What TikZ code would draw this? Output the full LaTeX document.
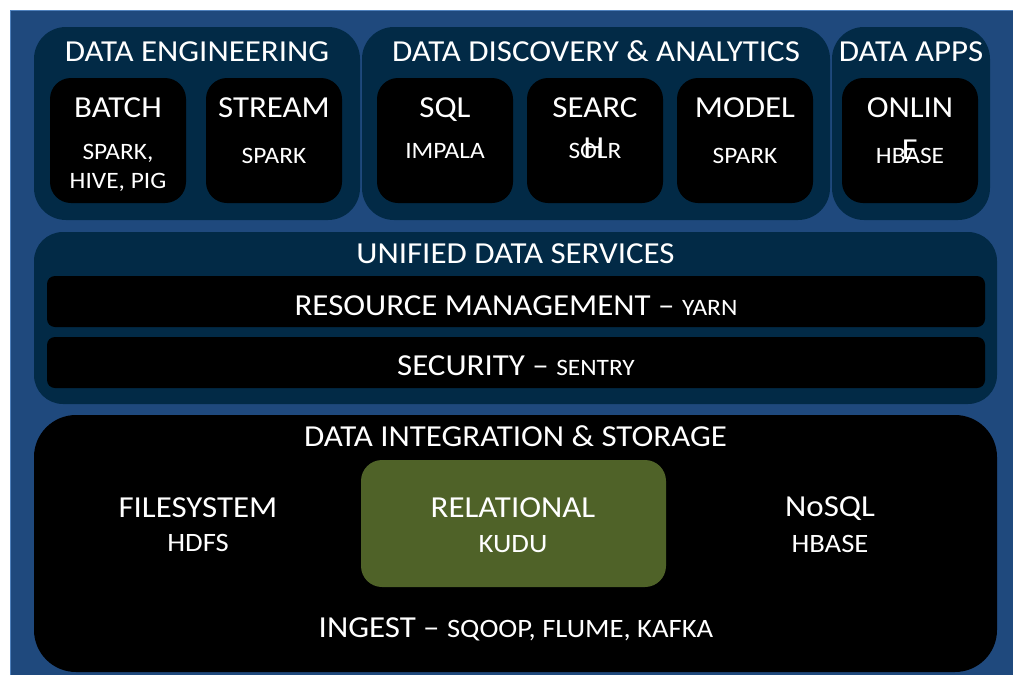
\documentclass[tikz,border=0pt]{standalone}
\usepackage{fontspec}
\setmainfont{Carlito}[FakeStretch=1.08]
\usepackage{xcolor}
\usepackage{tikz}
\definecolor{bg}{HTML}{1F497D}
\definecolor{bgedge}{HTML}{4F81BD}
\definecolor{navy}{HTML}{022A46}
\definecolor{olive}{HTML}{4F6228}
\tikzset{
  panel/.style={fill=navy},
  tile/.style={fill=black, rounded corners=21pt},
  bar/.style={fill=black, rounded corners=8pt},
  lab/.style={text=white, anchor=base, inner sep=0pt, font=\fontsize{30.5}{36}\selectfont},
  labs/.style={text=white, anchor=base, inner sep=0pt, font=\fontsize{23.5}{28}\selectfont},
  labm/.style={labs, font=\fontsize{26.5}{31}\selectfont}
}

\begin{document}
\begin{tikzpicture}[x=1pt,y=-1pt]
  \useasboundingbox (0,0) rectangle (1013,675);
  \fill[bg] (10,10) rectangle (1016,678);
  \draw[bgedge, line width=1.5pt] (10.5,678) -- (10.5,10.5) -- (1016,10.5);

  % top row
  \fill[panel, rounded corners=32pt] (34,27) rectangle (360,220);
  \fill[panel, rounded corners=32pt] (362,27) rectangle (830,220);
  \fill[panel, rounded corners=32pt] (832,27) rectangle (990,220);
  \node[lab] (eng) at (197,61) {DATA ENGINEERING};
  \node[lab] (disc) at (596,61) {DATA DISCOVERY \& ANALYTICS};
  \node[lab] (apps) at (911,61) {DATA APPS};

  \fill[tile] (50,78) rectangle (186,203);
  \fill[tile] (206,78) rectangle (342,203);
  \fill[tile] (377,78) rectangle (513,203);
  \fill[tile] (527,78) rectangle (663,203);
  \fill[tile] (677,78) rectangle (813,203);
  \fill[tile] (842,78) rectangle (978,203);

  \node[lab] (batch) at (118,117) {BATCH};
  \node[labs] (batchsub) at (118,159) {SPARK,};
  \node[labs] (batchsub2) at (118,188) {HIVE, PIG};
  \node[lab] (stream) at (274,117) {STREAM};
  \node[labs] (streamsub) at (274,163) {SPARK};
  \node[lab] (sql) at (445,117) {SQL};
  \node[labs] (sqlsub) at (445,158) {IMPALA};
  \node[labs] (searchsub) at (595,158) {SOLR};
  \node[lab] (search) at (595,117) {SEARC};
  \node[lab] (search2) at (594,157) {H};
  \node[lab] (model) at (745,117) {MODEL};
  \node[labs] (modelsub) at (745,163) {SPARK};
  \node[labs] (onlinesub) at (910,163) {HBASE};
  \node[lab] (online) at (910,117) {ONLIN};
  \node[lab] (online2) at (910,159) {E};

  % unified data services
  \fill[panel, rounded corners=29pt] (34,232) rectangle (997,404);
  \node[lab] (uds) at (515.5,263) {UNIFIED DATA SERVICES};
  \fill[bar] (47,276) rectangle (985,327);
  \fill[bar] (47,337) rectangle (985,388);
  \node[lab] (res) at (516,315) {RESOURCE MANAGEMENT -- {\fontsize{23.5}{28}\selectfont YARN}};
  \node[lab] (sec) at (516,375) {SECURITY -- {\fontsize{23.5}{28}\selectfont SENTRY}};

  % integration and storage
  \fill[black, rounded corners=42pt] (34,415) rectangle (997,672);
  \node[lab] (dis) at (515.5,446) {DATA INTEGRATION \& STORAGE};
  \fill[olive, rounded corners=21pt] (361,460) rectangle (666,587);
  \node[lab] (fs) at (198,517) {FILESYSTEM};
  \node[labm] (hdfs) at (198,551) {HDFS};
  \node[lab] (rel) at (513,517) {RELATIONAL};
  \node[labm] (kudu) at (513,552) {KUDU};
  \node[lab] (nosql) at (830,516) {NoSQL};
  \node[labm] (hbase) at (830,552) {HBASE};
  \node[lab] (ing) at (516,637) {INGEST -- {\fontsize{26.5}{31}\selectfont SQOOP, FLUME, KAFKA}};
\end{tikzpicture}
\end{document}
